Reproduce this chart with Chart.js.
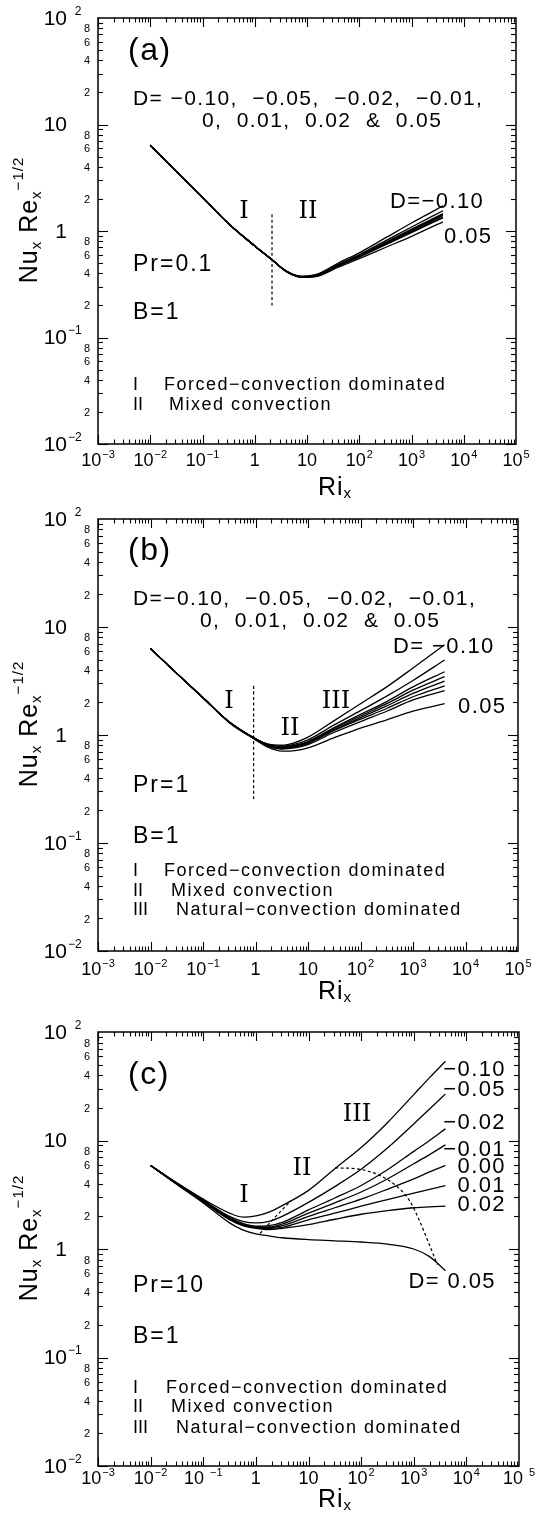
<!DOCTYPE html>
<html>
<head>
<meta charset="utf-8">
<title>Nu_x Re_x^-1/2 against Ri_x</title>
<script src="https://cdn.jsdelivr.net/npm/chart.js@4.4.1/dist/chart.umd.min.js"></script>
<style>
  html, body { margin: 0; padding: 0; background: #fff; }
  canvas { display: block; }
</style>
</head>
<body>
<canvas id="panelA" width="536" height="500"></canvas>
<canvas id="panelB" width="536" height="505"></canvas>
<canvas id="panelC" width="536" height="510"></canvas>
<script>
// curve order in every panel: D = -0.10, -0.05, -0.02, -0.01, 0, 0.01, 0.02, 0.05
var dValues = ['-0.10', '-0.05', '-0.02', '-0.01', '0', '0.01', '0.02', '0.05'];

// axis ticks (value ^ exponent)
var xTickValues = [1e-3, 1e-2, 1e-1, 1, 10, 1e2, 1e3, 1e4, 1e5];
var xTickLabels = ['10^−3', '10^−2', '10^−1', '1', '10', '10^2', '10^3', '10^4', '10^5'];
var xTickLabelsC = ['10^−3', '10^−2', '10 ^−1', '1', '10', '10^2', '10^3', '10^4', '10 ^5'];
var yTickValues = [1e-2, 1e-1, 1, 10, 1e2];
var yTickLabels = ['10^−2', '10^−1', '1', '10', '10^  2'];
var yMinorLabels = [2, 4, 6, 8];

// (a) Pr = 0.1
var riA = [0.01, 0.0316, 0.1, 0.316, 1, 2.14, 3.98, 7.94, 15.8, 39.8, 100, 316, 1000, 4000];
var nuA = [
  [6.38, 3.63, 2.07, 1.17, 0.724, 0.537, 0.422, 0.376, 0.394, 0.501, 0.624, 0.861, 1.19, 1.72],
  [6.38, 3.63, 2.07, 1.17, 0.724, 0.537, 0.420, 0.373, 0.388, 0.488, 0.600, 0.809, 1.09, 1.55],
  [6.38, 3.63, 2.07, 1.17, 0.724, 0.537, 0.420, 0.372, 0.385, 0.480, 0.587, 0.782, 1.04, 1.46],
  [6.38, 3.63, 2.07, 1.17, 0.724, 0.537, 0.419, 0.371, 0.384, 0.477, 0.583, 0.771, 1.02, 1.43],
  [6.38, 3.63, 2.07, 1.17, 0.724, 0.537, 0.419, 0.371, 0.383, 0.474, 0.578, 0.760, 1.00, 1.40],
  [6.38, 3.63, 2.07, 1.17, 0.724, 0.537, 0.418, 0.370, 0.382, 0.471, 0.573, 0.750, 0.980, 1.36],
  [6.38, 3.63, 2.07, 1.17, 0.724, 0.537, 0.418, 0.370, 0.380, 0.469, 0.569, 0.740, 0.964, 1.33],
  [6.38, 3.63, 2.07, 1.17, 0.724, 0.537, 0.417, 0.367, 0.376, 0.457, 0.550, 0.700, 0.891, 1.22]
];
var dashRiA = [2.14, 2.14];
var dashNuA = [0.2, 1.48];

// (b) Pr = 1
var riB = [0.01, 0.0316, 0.1, 0.316, 1, 1.78, 3.16, 5.62, 10, 31.6, 100, 316, 1000, 4000];
var nuB = [
  [6.31, 3.72, 2.21, 1.32, 0.923, 0.822, 0.804, 0.851, 0.955, 1.36, 1.95, 2.79, 4.17, 6.84],
  [6.31, 3.72, 2.21, 1.32, 0.923, 0.813, 0.785, 0.822, 0.902, 1.24, 1.68, 2.29, 3.20, 4.95],
  [6.31, 3.72, 2.21, 1.32, 0.923, 0.804, 0.776, 0.804, 0.871, 1.17, 1.55, 2.04, 2.79, 3.85],
  [6.31, 3.72, 2.21, 1.32, 0.923, 0.804, 0.767, 0.794, 0.861, 1.15, 1.50, 1.95, 2.60, 3.47],
  [6.31, 3.72, 2.21, 1.32, 0.923, 0.794, 0.759, 0.785, 0.851, 1.12, 1.45, 1.86, 2.43, 3.16],
  [6.31, 3.72, 2.21, 1.32, 0.912, 0.794, 0.750, 0.776, 0.832, 1.10, 1.40, 1.76, 2.26, 2.85],
  [6.31, 3.72, 2.21, 1.32, 0.912, 0.785, 0.741, 0.759, 0.813, 1.06, 1.33, 1.66, 2.11, 2.57],
  [6.31, 3.72, 2.21, 1.30, 0.902, 0.767, 0.708, 0.716, 0.759, 0.944, 1.16, 1.38, 1.66, 1.95]
];
var dashRiB = [0.92, 0.92];
var dashNuB = [0.255, 3.0];

// (c) Pr = 10
var riC = [0.01, 0.0316, 0.1, 0.316, 0.562, 1, 1.78, 3.16, 10, 31.6, 100, 316, 1000, 2000, 4000];
var nuC = [
  [5.89, 4.07, 2.88, 2.14, 1.97, 2.02, 2.19, 2.51, 3.47, 5.50, 8.61, 14.6, 26.5, 38.0, 53.7],
  [5.89, 4.03, 2.82, 2.00, 1.80, 1.74, 1.80, 2.00, 2.69, 3.76, 5.43, 8.51, 14.2, 19.5, 26.9],
  [5.89, 3.98, 2.79, 1.95, 1.72, 1.62, 1.64, 1.76, 2.29, 2.95, 3.85, 5.37, 7.94, 10.0, 12.8],
  [5.89, 3.98, 2.75, 1.93, 1.70, 1.60, 1.60, 1.70, 2.14, 2.66, 3.35, 4.42, 6.10, 7.41, 9.12],
  [5.89, 3.98, 2.75, 1.91, 1.68, 1.585, 1.57, 1.64, 2.00, 2.40, 2.88, 3.55, 4.42, 5.13, 5.90],
  [5.89, 3.98, 2.72, 1.88, 1.66, 1.57, 1.55, 1.585, 1.86, 2.14, 2.48, 2.85, 3.27, 3.55, 3.84],
  [5.89, 3.98, 2.72, 1.86, 1.64, 1.55, 1.51, 1.55, 1.68, 1.88, 2.09, 2.26, 2.40, 2.45, 2.48],
  [5.89, 3.94, 2.66, 1.74, 1.50, 1.38, 1.32, 1.27, 1.22, 1.19, 1.16, 1.11, 1.00, 0.85, 0.63]
];
// boundaries I/II and II/III
var dashRiC1 = [1.2, 2.4, 4.7];
var dashNuC1 = [1.39, 2.0, 2.8];
var dashRiC2 = [32, 90, 220, 500, 850, 1300, 1900, 2800];
var dashNuC2 = [5.6, 5.45, 4.8, 3.7, 2.75, 1.8, 1.15, 0.72];

var sans = '"Liberation Sans", Arial, sans-serif';
var serif = '"DejaVu Serif", serif';

function setFont(ctx, size, family, spacing) {
  ctx.font = size + 'px ' + (family || sans);
  if ('letterSpacing' in ctx) ctx.letterSpacing = (spacing || 0) + 'px';
}

function text(ctx, str, x, y, size, opts) {
  opts = opts || {};
  setFont(ctx, size, opts.family, opts.spacing);
  ctx.textAlign = opts.align || 'left';
  ctx.textBaseline = 'middle';
  ctx.fillText(str, x, y);
}

// "10^−2" style label; align 'center' centres the whole label, 'right' puts the base against x
function powerLabel(ctx, label, x, y, baseSize, supSize, align) {
  var parts = label.split('^');
  setFont(ctx, baseSize);
  var bw = ctx.measureText(parts[0]).width;
  var sw = 0;
  if (parts[1]) {
    setFont(ctx, supSize);
    sw = ctx.measureText(parts[1]).width + 1;
  }
  var x0 = align === 'center' ? x - (bw + sw) / 2 : x - bw;
  text(ctx, parts[0], x0, y, baseSize);
  if (parts[1]) text(ctx, parts[1], x0 + bw + 1, y - baseSize * 0.36, supSize);
}

function line(ctx, x1, y1, x2, y2) {
  ctx.beginPath();
  ctx.moveTo(x1, y1);
  ctx.lineTo(x2, y2);
  ctx.stroke();
}

function drawAxes(chart, xLabels, gap) {
  var ctx = chart.ctx, a = chart.chartArea;
  var xs = chart.scales.x, ys = chart.scales.y;
  ctx.save();
  ctx.strokeStyle = '#000';
  ctx.fillStyle = '#000';
  ctx.lineWidth = 1.5;
  ctx.strokeRect(a.left, a.top, a.right - a.left, a.bottom - a.top);

  // inward ticks on all four sides
  ctx.lineWidth = 1.1;
  var e, m, v, p, len;
  for (e = -3; e < 5; e++) {
    for (m = 1; m < 10; m++) {
      v = m * Math.pow(10, e);
      p = Math.round(xs.getPixelForValue(v)) + 0.5;
      len = m === 1 ? 9 : 4.5;
      line(ctx, p, a.bottom, p, a.bottom - len);
      line(ctx, p, a.top, p, a.top + len);
    }
  }
  for (e = -2; e < 2; e++) {
    for (m = 1; m < 10; m++) {
      v = m * Math.pow(10, e);
      p = Math.round(ys.getPixelForValue(v)) + 0.5;
      len = m === 1 ? 10 : 5;
      line(ctx, a.left, p, a.left + len, p);
      line(ctx, a.right, p, a.right - len, p);
    }
  }

  // tick labels
  xTickValues.forEach(function (v, i) {
    powerLabel(ctx, xLabels[i], xs.getPixelForValue(v), a.bottom + gap.tick, 18, 11, 'center');
  });
  yTickValues.forEach(function (v, i) {
    powerLabel(ctx, yTickLabels[i], a.left - 31, ys.getPixelForValue(v) + 1, 21, 12, 'right');
  });
  for (e = -2; e < 2; e++) {
    yMinorLabels.forEach(function (m) {
      text(ctx, String(m), a.left - 8, ys.getPixelForValue(m * Math.pow(10, e)) + 1, 11, { align: 'right' });
    });
  }

  // axis titles
  text(ctx, 'Ri', a.left + 220, a.bottom + gap.title, 25, { spacing: 1 });
  setFont(ctx, 25, sans, 1);
  var rw = ctx.measureText('Ri').width;
  text(ctx, 'x', a.left + 220 + rw, a.bottom + gap.title + 6, 15);

  var pieces = [
    { t: 'Nu', s: 25, dy: 0 }, { t: 'x', s: 15, dy: 7 }, { t: ' ', s: 25, dy: 0 },
    { t: 'Re', s: 25, dy: 0 }, { t: 'x', s: 15, dy: 7 }, { t: '−1/2', s: 15, dy: -11 }
  ];
  var total = 0;
  pieces.forEach(function (pc) {
    setFont(ctx, pc.s, sans, 1);
    pc.w = ctx.measureText(pc.t).width;
    total += pc.w;
  });
  ctx.save();
  ctx.translate(a.left - 68, (a.top + a.bottom) / 2 - 11);
  ctx.rotate(-Math.PI / 2);
  var cx = -total / 2;
  pieces.forEach(function (pc) {
    text(ctx, pc.t, cx, pc.dy, pc.s, { spacing: 1 });
    cx += pc.w;
  });
  ctx.restore();
  ctx.restore();
}

function drawNotes(chart, notes) {
  var ctx = chart.ctx, a = chart.chartArea;
  ctx.save();
  ctx.fillStyle = '#000';
  notes.forEach(function (n) {
    text(ctx, n.t, a.left + n.x, a.top + n.y, n.s, { align: n.align, family: n.roman ? serif : sans, spacing: n.sp });
  });
  ctx.restore();
}

function curveSets(ri, rows) {
  return rows.map(function (row, k) {
    return {
      label: 'D = ' + dValues[k],
      data: ri.map(function (x, i) { return { x: x, y: row[i] }; }),
      borderColor: '#000',
      borderWidth: 1.3,
      pointRadius: 0,
      fill: false,
      cubicInterpolationMode: 'monotone'
    };
  });
}

function dashSet(ri, nu) {
  return {
    label: 'boundary',
    data: ri.map(function (x, i) { return { x: x, y: nu[i] }; }),
    borderColor: '#000',
    borderWidth: 1.2,
    borderDash: [3, 2.5],
    pointRadius: 0,
    fill: false,
    cubicInterpolationMode: 'monotone'
  };
}

function makePanel(id, datasets, padding, gap, notes, xLabels) {
  new Chart(document.getElementById(id), {
    type: 'line',
    data: { datasets: datasets },
    options: {
      responsive: false,
      animation: false,
      events: [],
      layout: { padding: padding },
      plugins: { legend: { display: false }, tooltip: { enabled: false } },
      scales: {
        x: { type: 'logarithmic', min: 1e-3, max: 1e5, display: false },
        y: { type: 'logarithmic', min: 1e-2, max: 1e2, display: false }
      }
    },
    plugins: [{
      id: 'frameAndNotes',
      afterDraw: function (chart) {
        drawAxes(chart, xLabels, gap);
        drawNotes(chart, notes);
      }
    }]
  });
}

var dLine1 = 'D= −0.10,  −0.05,  −0.02,  −0.01,';
var dLine2 = '0,  0.01,  0.02  &  0.05';

makePanel('panelA', curveSets(riA, nuA).concat([dashSet(dashRiA, dashNuA)]),
  { left: 98, right: 20, top: 18, bottom: 56 }, { tick: 17, title: 44 }, [
    { t: '(a)', x: 30, y: 33, s: 32, sp: 1.5 },
    { t: dLine1, x: 35, y: 81, s: 21, sp: 1.4 },
    { t: dLine2, x: 104, y: 103, s: 21, sp: 1.4 },
    { t: 'I', x: 146, y: 194, s: 24, roman: true, align: 'center' },
    { t: 'II', x: 210, y: 194, s: 24, roman: true, align: 'center' },
    { t: 'D=−0.10', x: 292, y: 184, s: 22, sp: 1.4 },
    { t: '0.05', x: 346, y: 219, s: 22, sp: 1.4 },
    { t: 'Pr=0.1', x: 35, y: 247, s: 23, sp: 2 },
    { t: 'B=1', x: 35, y: 295, s: 23, sp: 2 },
    { t: 'I', x: 35, y: 367, s: 18 },
    { t: 'Forced−convection dominated', x: 66, y: 367, s: 18, sp: 1.5 },
    { t: 'II', x: 35, y: 387, s: 18 },
    { t: 'Mixed convection', x: 71, y: 387, s: 18, sp: 1.5 }
  ], xTickLabels);

makePanel('panelB', curveSets(riB, nuB).concat([dashSet(dashRiB, dashNuB)]),
  { left: 98, right: 18, top: 19, bottom: 54 }, { tick: 19, title: 41 }, [
    { t: '(b)', x: 30, y: 32, s: 32, sp: 1.5 },
    { t: 'D=−0.10,  −0.05,  −0.02,  −0.01,', x: 35, y: 80, s: 21, sp: 1.4 },
    { t: dLine2, x: 102, y: 102, s: 21, sp: 1.4 },
    { t: 'D=', x: 295, y: 128, s: 22, sp: 1.4 },
    { t: '−0.10', x: 334, y: 128, s: 22, sp: 1.4 },
    { t: 'I', x: 131, y: 183, s: 24, roman: true, align: 'center' },
    { t: 'II', x: 192, y: 210, s: 24, roman: true, align: 'center' },
    { t: 'III', x: 238, y: 183, s: 24, roman: true, align: 'center' },
    { t: '0.05', x: 360, y: 188, s: 22, sp: 1.4 },
    { t: 'Pr=1', x: 35, y: 267, s: 23, sp: 2 },
    { t: 'B=1', x: 35, y: 318, s: 23, sp: 2 },
    { t: 'I', x: 35, y: 352, s: 18 },
    { t: 'Forced−convection dominated', x: 66, y: 352, s: 18, sp: 1.5 },
    { t: 'II', x: 35, y: 372, s: 18 },
    { t: 'Mixed convection', x: 73, y: 372, s: 18, sp: 1.5 },
    { t: 'III', x: 35, y: 391, s: 18 },
    { t: 'Natural−convection dominated', x: 78, y: 391, s: 18, sp: 1.5 }
  ], xTickLabels);

makePanel('panelC', curveSets(riC, nuC).concat([dashSet(dashRiC1, dashNuC1), dashSet(dashRiC2, dashNuC2)]),
  { left: 98, right: 17, top: 27, bottom: 49 }, { tick: 13, title: 34 }, [
    { t: '(c)', x: 30, y: 43, s: 32, sp: 1.5 },
    { t: 'I', x: 146, y: 164, s: 24, roman: true, align: 'center' },
    { t: 'II', x: 204, y: 137, s: 24, roman: true, align: 'center' },
    { t: 'III', x: 259, y: 83, s: 24, roman: true, align: 'center' },
    { t: '−0.10', x: 408, y: 38, s: 22, sp: 1.4, align: 'right' },
    { t: '−0.05', x: 408, y: 58, s: 22, sp: 1.4, align: 'right' },
    { t: '−0.02', x: 408, y: 91, s: 22, sp: 1.4, align: 'right' },
    { t: '−0.01', x: 408, y: 118, s: 22, sp: 1.4, align: 'right' },
    { t: '0.00', x: 408, y: 135, s: 22, sp: 1.4, align: 'right' },
    { t: '0.01', x: 408, y: 154, s: 22, sp: 1.4, align: 'right' },
    { t: '0.02', x: 408, y: 173, s: 22, sp: 1.4, align: 'right' },
    { t: 'D= 0.05', x: 398, y: 250, s: 22, sp: 1.4, align: 'right' },
    { t: 'Pr=10', x: 35, y: 254, s: 23, sp: 2 },
    { t: 'B=1', x: 35, y: 305, s: 23, sp: 2 },
    { t: 'I', x: 35, y: 356, s: 18 },
    { t: 'Forced−convection dominated', x: 68, y: 356, s: 18, sp: 1.5 },
    { t: 'II', x: 35, y: 375, s: 18 },
    { t: 'Mixed convection', x: 73, y: 375, s: 18, sp: 1.5 },
    { t: 'III', x: 35, y: 396, s: 18 },
    { t: 'Natural−convection dominated', x: 78, y: 396, s: 18, sp: 1.5 }
  ], xTickLabelsC);
</script>
</body>
</html>
